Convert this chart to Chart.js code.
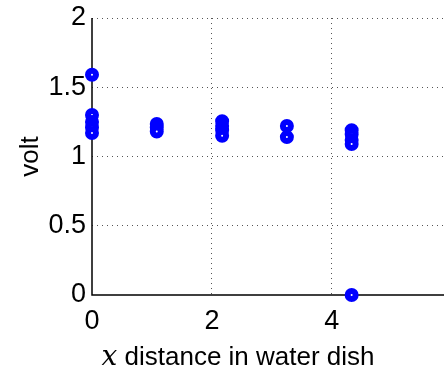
<!DOCTYPE html>
<html>
<head>
<meta charset="utf-8">
<script src="https://cdn.jsdelivr.net/npm/chart.js@4/dist/chart.umd.min.js"></script>
<style>
  html, body { margin: 0; padding: 0; background: #fff; }
  #wrap { width: 444px; height: 368px; }
</style>
</head>
<body>
<div id="wrap"><canvas id="myChart" width="444" height="368"></canvas></div>
<script>
// meetpunten: afstand in de waterbak en gemeten spanning
var distances = [0, 0, 0, 0, 0,
                 1.08, 1.08, 1.08,
                 2.17, 2.17, 2.17, 2.17,
                 3.25, 3.25,
                 4.33, 4.33, 4.33, 4.33, 4.33];
var volts = [1.59, 1.30, 1.25, 1.21, 1.17,
             1.235, 1.21, 1.18,
             1.255, 1.22, 1.19, 1.15,
             1.22, 1.14,
             1.19, 1.16, 1.12, 1.09, 0];
var xTicks = [0, 2, 4];
var yTicks = [0, 0.5, 1, 1.5, 2];

var points = distances.map(function(d, i) {
  return { x: d, y: volts[i] };
});

var tickFont = { family: '"Liberation Sans", Arial, sans-serif', size: 27 };

// grid stippellijnen, behalve op 0 (daar komt de as)
function gridColor(c) {
  return c.tick && c.tick.value === 0 ? 'rgba(0,0,0,0)' : '#555';
}

// assen (links en onder) zelf tekenen, doorgetrokken
var axes = {
  id: 'axes',
  beforeDatasetsDraw: function(chart) {
    var a = chart.chartArea;
    var c = chart.ctx;
    c.save();
    c.strokeStyle = '#000';
    c.lineWidth = 1.5;
    c.beginPath();
    c.moveTo(a.left, a.top);
    c.lineTo(a.left, a.bottom);
    c.lineTo(a.right, a.bottom);
    c.stroke();
    c.restore();
  }
};

// x-as titel met cursieve x (zoals LaTeX)
var xTitle = {
  id: 'xTitle',
  afterDraw: function(chart) {
    var c = chart.ctx;
    c.save();
    c.fillStyle = '#000';
    c.textBaseline = 'alphabetic';
    c.textAlign = 'left';
    var y = 365;
    c.font = 'italic 28px "DejaVu Serif", serif';
    var w1 = c.measureText('x').width;
    c.font = '26px "Liberation Sans", Arial, sans-serif';
    var rest = ' distance in water dish';
    var w2 = c.measureText(rest).width;
    var x0 = (chart.chartArea.left + chart.chartArea.right) / 2 - 30 - (w1 + w2) / 2;
    c.font = 'italic 28px "DejaVu Serif", serif';
    c.fillText('x', x0, y);
    c.font = '26px "Liberation Sans", Arial, sans-serif';
    c.fillText(rest, x0 + w1, y);
    c.restore();
  }
};

var ctx = document.getElementById('myChart').getContext('2d');
var myChart = new Chart(ctx, {
  type: 'scatter',
  data: {
    datasets: [{
      data: points,
      borderColor: '#0000ff',
      backgroundColor: '#ffffff',
      pointRadius: 4,
      pointBorderWidth: 6,
      pointHoverRadius: 4,
      clip: false
    }]
  },
  options: {
    responsive: false,
    animation: false,
    layout: { autoPadding: false, padding: { top: 18, right: 0, bottom: 0, left: 0 } },
    plugins: { legend: { display: false }, tooltip: { enabled: false } },
    scales: {
      x: {
        type: 'linear',
        min: 0,
        max: 5.87,
        afterBuildTicks: function(scale) {
          scale.ticks = xTicks.map(function(v) { return { value: v }; });
        },
        afterFit: function(scale) {
          scale.height = 73;
          scale.paddingLeft = 0;
          scale.paddingRight = 0;
        },
        ticks: {
          color: '#000',
          padding: 10,
          maxRotation: 0,
          font: tickFont,
          callback: function(v) { return String(v); }
        },
        grid: { color: gridColor, lineWidth: 1, drawTicks: false },
        border: { display: false, dash: [1, 4] }
      },
      y: {
        min: 0,
        max: 2,
        afterBuildTicks: function(scale) {
          scale.ticks = yTicks.map(function(v) { return { value: v }; });
        },
        afterFit: function(scale) {
          scale.width = 92;
          scale.paddingTop = 0;
          scale.paddingBottom = 0;
        },
        ticks: {
          color: '#000',
          padding: 6,
          font: tickFont,
          callback: function(v) { return String(v); }
        },
        grid: { color: gridColor, lineWidth: 1, drawTicks: false },
        border: { display: false, dash: [1, 4] },
        title: {
          display: true,
          text: 'volt',
          color: '#000',
          padding: { top: 15, bottom: 0 },
          font: { family: '"Liberation Sans", Arial, sans-serif', size: 26 }
        }
      }
    }
  },
  plugins: [axes, xTitle]
});
</script>
</body>
</html>
